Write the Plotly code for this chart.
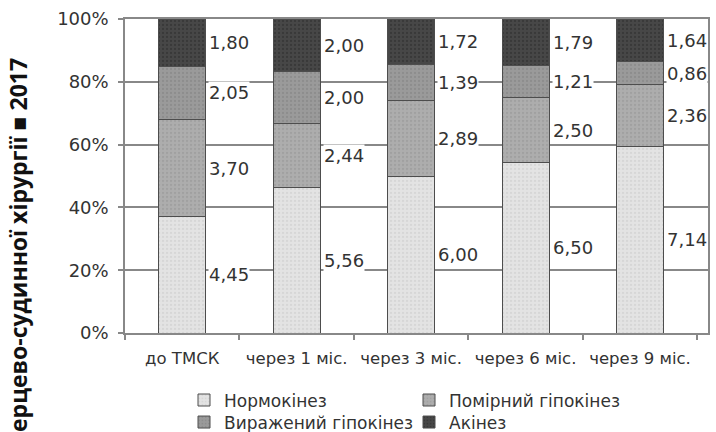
import plotly.graph_objects as go

categories = ["до ТМСК", "через 1 міс.", "через 3 міс.", "через 6 міс.", "через 9 міс."]
series_names = ["Нормокінез", "Помірний гіпокінез", "Виражений гіпокінез", "Акінез"]
normokinez = [4.45, 5.56, 6.00, 6.50, 7.14]
pomirnyi = [3.70, 2.44, 2.89, 2.50, 2.36]
vyrazhenyi = [2.05, 2.00, 1.39, 1.21, 0.86]
akinez = [1.80, 2.00, 1.72, 1.79, 1.64]
y_ticks = [0, 20, 40, 60, 80, 100]
y_tick_labels = ["0%", "20%", "40%", "60%", "80%", "100%"]
side_title = "ерцево-судинної хірургії ■ 2017"

series_values = [normokinez, pomirnyi, vyrazhenyi, akinez]
fills = ["#e3e3e3", "#adadad", "#9a9a9a", "#474747"]
dots = ["#c8c8c8", "#929292", "#7d7d7d", "#2a2a2a"]
legend_ids = ["legend", "legend", "legend2", "legend2"]

totals = [sum(v[i] for v in series_values) for i in range(len(categories))]

FONT = "DejaVu Sans"
TXT = "#333333"

fig = go.Figure()
for name, vals, fc, dc, lg in zip(series_names, series_values, fills, dots, legend_ids):
    pct = [v / t * 100 for v, t in zip(vals, totals)]
    fig.add_trace(go.Bar(
        x=categories, y=pct, name=name, legend=lg,
        marker=dict(color=fc, line=dict(color="#4d4d4d", width=1),
                    pattern=dict(shape=".", fgcolor=dc, bgcolor=fc, size=4, solidity=0.25)),
        hoverinfo="skip",
    ))

# value labels to the right of each segment, centred on segment
annotations = []
for i, cat in enumerate(categories):
    base = 0.0
    for vals in series_values:
        p = vals[i] / totals[i] * 100
        annotations.append(dict(
            x=cat, y=base + p / 2, xref="x", yref="y",
            text=f"{vals[i]:.2f}".replace(".", ","),
            showarrow=False, xanchor="left", yanchor="middle", xshift=26,
            bgcolor="white", borderpad=0,
            font=dict(family=FONT, size=18, color=TXT),
        ))
        base += p

annotations.append(dict(
    x=0, y=0, xref="paper", yref="paper", xshift=-107, yshift=88,
    text=f"<b>{side_title}</b>", textangle=-90, showarrow=False,
    xanchor="center", yanchor="middle",
    font=dict(family="Open Sans", size=23, color="#111111"),
))

fig.update_layout(
    width=716, height=432,
    margin=dict(l=125, r=8, t=19, b=99),
    paper_bgcolor="white", plot_bgcolor="white",
    barmode="stack", bargap=0.59,
    font=dict(family=FONT, color=TXT),
    annotations=annotations,
    legend=dict(orientation="h", xref="container", yref="container",
                x=0.257, y=0.073, xanchor="left", yanchor="middle",
                entrywidth=180, traceorder="normal",
                font=dict(family=FONT, size=17, color=TXT), itemwidth=30,
                bgcolor="rgba(0,0,0,0)"),
    legend2=dict(orientation="h", xref="container", yref="container",
                 x=0.257, y=0.022, xanchor="left", yanchor="middle",
                 entrywidth=180, traceorder="normal",
                 font=dict(family=FONT, size=17, color=TXT), itemwidth=30,
                 bgcolor="rgba(0,0,0,0)"),
)
fig.update_xaxes(
    type="category", showline=True, linecolor="#888888", linewidth=1.5, mirror=True,
    ticks="outside", tickson="boundaries", ticklen=5, tickcolor="#888888", tickwidth=1.5,
    tickfont=dict(family=FONT, size=16.5, color=TXT), ticklabelstandoff=9,
    tickangle=0, automargin=False, showgrid=False,
)
fig.update_yaxes(
    range=[0, 100], tickvals=y_ticks, ticktext=y_tick_labels,
    showline=True, linecolor="#888888", linewidth=1.5, mirror=True,
    ticks="outside", ticklen=5, tickcolor="#888888", tickwidth=1.5,
    showgrid=True, gridcolor="#888888", gridwidth=1.5,
    tickfont=dict(family=FONT, size=18, color=TXT), ticklabelstandoff=6,
    automargin=False, zeroline=False,
)

fig.write_html("out.html", config={"displayModeBar": False},
               post_script="document.body.style.margin='0';")
